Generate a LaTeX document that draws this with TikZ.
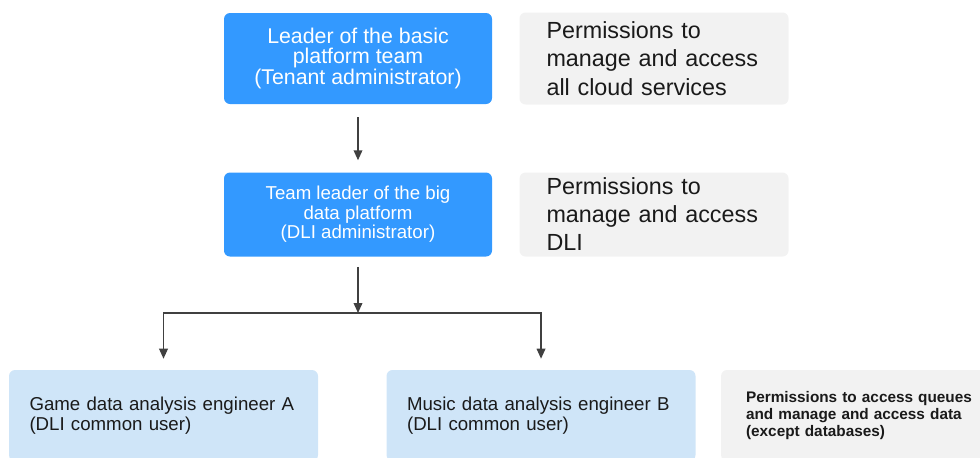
\documentclass[tikz,border=0pt]{standalone}
\usepackage{fontspec}
\setmainfont{Liberation Sans}
\usetikzlibrary{arrows.meta, positioning}
\definecolor{cblue}{HTML}{3399FF}
\definecolor{clight}{HTML}{CFE5F8}
\definecolor{cgrey}{HTML}{F2F2F2}
\definecolor{cline}{HTML}{404040}
\definecolor{ctext}{HTML}{1A1A1A}
\newlength\pxu
\setlength\pxu{0.75pt}
\tikzset{
  role/.style={fill=cblue, text=white, rounded corners=6\pxu, align=center, minimum width=268\pxu, inner sep=0pt},
  perm/.style={fill=cgrey, text=ctext, rounded corners=6\pxu, align=left, inner ysep=0pt},
  user/.style={fill=clight, text=ctext, rounded corners=6\pxu, align=left, text width=268\pxu, inner xsep=20.5\pxu, inner ysep=0pt, minimum height=91\pxu, font=\fontsize{14}{15}\selectfont},
  arrow/.style={-{Triangle[length=7.5pt, width=6.5pt]}, draw=cline, line width=1.1pt},
}

\begin{document}
\begin{tikzpicture}[x=\pxu, y=-\pxu]
  \useasboundingbox (0,0) rectangle (980,457);
  \clip (0,0) rectangle (980,457);

  % roles
  \node[role, minimum height=91\pxu, font=\fontsize{16}{14.5}\selectfont] (lead) at (358,58.5)
    {Leader of the basic\\platform team\\(Tenant administrator)};
  \node[role, minimum height=84\pxu, font=\fontsize{14}{14.6}\selectfont, below=68\pxu of lead] (dli)
    {Team leader of the big\\data platform\\(DLI administrator)};

  % permissions
  \node[perm, right=27\pxu of lead, text width=215\pxu, inner xsep=27\pxu, minimum height=92\pxu, font=\fontsize{17.5}{21.4}\selectfont] (leadperm)
    {Permissions to\\manage and access\\all cloud services};
  \node[perm, right=27\pxu of dli, text width=215\pxu, inner xsep=27\pxu, minimum height=84\pxu, font=\fontsize{17.5}{21}\selectfont] (dliperm)
    {Permissions to\\manage and access\\DLI};

  % common users
  \node[user] (game) at (163.5,415.5) {Game data analysis engineer A\\(DLI common user)};
  \node[user, right=68\pxu of game] (music) {Music data analysis engineer B\\(DLI common user)};
  \node[perm, right=25\pxu of music, text width=240\pxu, inner xsep=25\pxu, minimum height=91\pxu, font=\bfseries\fontsize{11.5}{12.8}\selectfont] (userperm)
    {Permissions to access queues\\and manage and access data\\(except databases)};

  \coordinate (split) at (358,313);

  \draw[arrow, shorten <=13\pxu, shorten >=12\pxu] (lead) -- (dli);
  \draw[arrow, shorten <=10\pxu] (dli) -- (split);
  \draw[arrow, shorten >=11\pxu] (split) -| (game);
  \draw[arrow, shorten >=11\pxu] (split) -| (music);
\end{tikzpicture}
\end{document}
